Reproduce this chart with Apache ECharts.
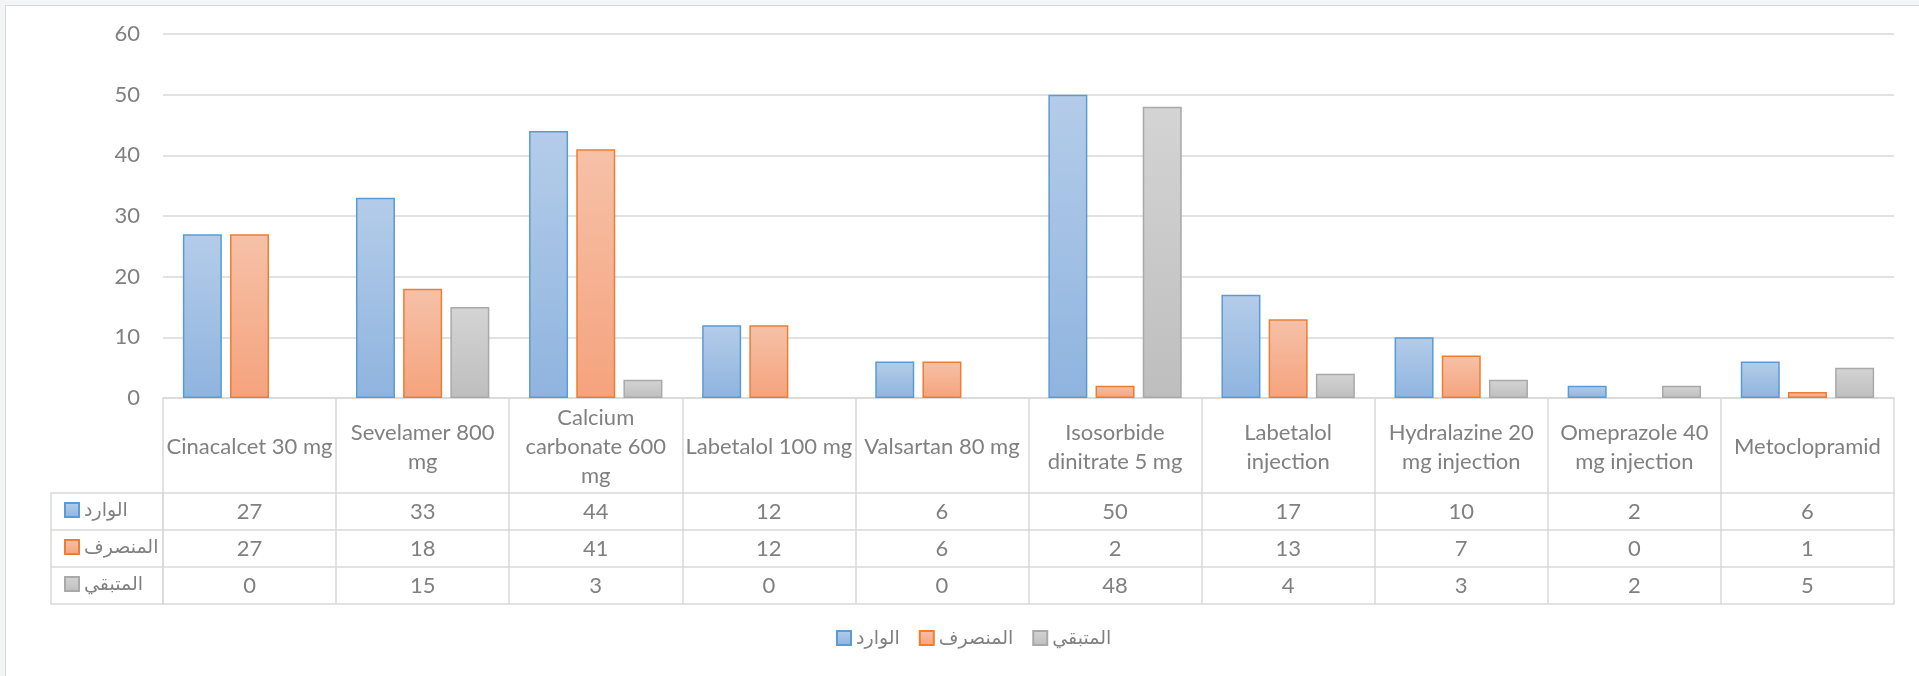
<!DOCTYPE html>
<html>
<head>
<meta charset="utf-8">
<script src="https://cdn.jsdelivr.net/npm/echarts@6/dist/echarts.min.js"></script>
<style>
  html, body { margin: 0; padding: 0; width: 1919px; height: 676px; overflow: hidden; background: #f3f4f5; }
  #frame { position: absolute; left: 5px; top: 5px; width: 1960px; height: 720px; background: #fff; border: 1.5px solid #d9d9d9; }
  #chart { position: absolute; left: 0; top: 0; width: 1919px; height: 676px; }
</style>
</head>
<body>
<div id="frame"></div>
<div id="chart"></div>
<script>
"use strict";

const categories = [
  "Cinacalcet 30 mg",
  "Sevelamer 800\nmg",
  "Calcium\ncarbonate 600\nmg",
  "Labetalol 100 mg",
  "Valsartan 80 mg",
  "Isosorbide\ndinitrate 5 mg",
  "Labetalol\ninjection",
  "Hydralazine 20\nmg injection",
  "Omeprazole 40\nmg injection",
  "Metoclopramid",
];
const seriesNames = ["الوارد", "المنصرف", "المتبقي"];
const incoming = [27, 33, 44, 12, 6, 50, 17, 10, 2, 6];
const dispensed = [27, 18, 41, 12, 6, 2, 13, 7, 0, 1];
const remaining = [0, 15, 3, 0, 0, 48, 4, 3, 2, 5];
const yMin = 0, yMax = 60, yStep = 10;

const FONT = "Lato, 'DejaVu Sans', sans-serif";
const TEXT = "#808080";
const LINE = "#d9d9d9";

const grad = (top, bottom) =>
  new echarts.graphic.LinearGradient(0, 0, 0, 1, [
    { offset: 0, color: top },
    { offset: 1, color: bottom },
  ]);

const styles = [
  { fill: grad("#b4cce9", "#8fb4df"), border: "#5b9bd5" },
  { fill: grad("#f6c1a8", "#f5a37d"), border: "#ed7d31" },
  { fill: grad("#d4d4d4", "#bebebe"), border: "#a9a9a9" },
];
const values = [incoming, dispensed, remaining];

// table rows are extra category axes pushed down under the plot
const rowOffsets = [95, 132, 169];
const rowAxes = values.map((vals, i) => ({
  type: "category",
  gridIndex: 0,
  position: "bottom",
  offset: rowOffsets[i],
  data: vals.map(String),
  axisLine: { show: true, lineStyle: { color: LINE, width: 1.5 } },
  axisTick: { show: false },
  axisLabel: {
    interval: 0, margin: 18.5, verticalAlign: "middle",
    color: TEXT, fontFamily: FONT, fontSize: 22,
  },
}));

const legendText = { color: TEXT, fontFamily: FONT, fontSize: 19, lineHeight: 22 };

const chart = echarts.init(document.getElementById("chart"), null, { renderer: "canvas" });

chart.setOption({
  animation: false,
  textStyle: { fontFamily: FONT },
  grid: { left: 163, right: 25, top: 34, bottom: 278, containLabel: false },
  legend: [
    {
      orient: "vertical",
      left: 59, top: 494,
      icon: "rect",
      itemWidth: 14, itemHeight: 14, itemGap: 15,
      data: seriesNames,
      textStyle: legendText,
    },
    {
      orient: "horizontal",
      left: 831, top: 622,
      icon: "rect",
      itemWidth: 14, itemHeight: 14, itemGap: 19,
      data: seriesNames,
      textStyle: legendText,
    },
  ],
  xAxis: [
    {
      type: "category",
      data: categories,
      axisLine: { show: true, lineStyle: { color: LINE, width: 1.5 } },
      axisTick: { show: true, length: 206, lineStyle: { color: LINE, width: 1.5 } },
      axisLabel: {
        interval: 0, margin: 49, verticalAlign: "middle", align: "center",
        lineHeight: 29, color: TEXT, fontFamily: FONT, fontSize: 22,
      },
    },
    ...rowAxes,
    {
      type: "category",
      gridIndex: 0,
      position: "bottom",
      offset: 206,
      data: categories,
      axisLine: { show: true, lineStyle: { color: LINE, width: 1.5 } },
      axisTick: { show: false },
      axisLabel: { show: false },
    },
  ],
  yAxis: {
    type: "value",
    min: yMin, max: yMax, interval: yStep,
    axisLine: { show: false },
    axisTick: { show: false },
    axisLabel: { margin: 23, color: TEXT, fontFamily: FONT, fontSize: 22 },
    splitLine: { lineStyle: { color: LINE, width: 1.5 } },
  },
  series: values.map((vals, i) => ({
    name: seriesNames[i],
    type: "bar",
    xAxisIndex: 0,
    barWidth: 39,
    barGap: "21%",
    data: vals.map((v) => (v === 0 ? "-" : v)),
    itemStyle: { color: styles[i].fill, borderColor: styles[i].border, borderWidth: 1.5 },
  })),
  graphic: [
    {
      type: "rect",
      shape: { x: 51, y: 493, width: 112, height: 111 },
      style: { fill: null, stroke: LINE, lineWidth: 1.5 },
      silent: true,
    },
    {
      type: "line",
      shape: { x1: 51, y1: 530, x2: 163, y2: 530 },
      style: { stroke: LINE, lineWidth: 1.5 },
      silent: true,
    },
    {
      type: "line",
      shape: { x1: 51, y1: 567, x2: 163, y2: 567 },
      style: { stroke: LINE, lineWidth: 1.5 },
      silent: true,
    },
  ],
});
</script>
</body>
</html>
